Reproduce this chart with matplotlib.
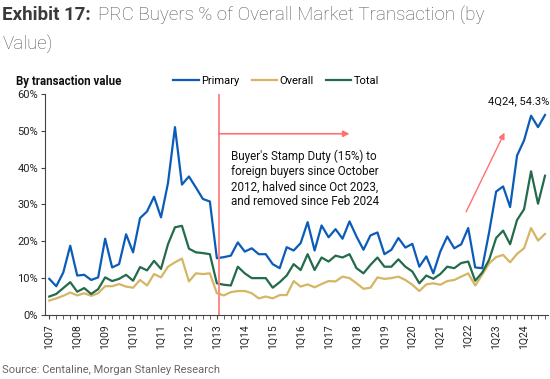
import matplotlib
matplotlib.use("Agg")
import matplotlib.pyplot as plt

plt.rcParams['font.family'] = ['Roboto', 'DejaVu Sans']

# quarters 1Q07 .. 4Q24
quarters = [f"{q}Q{y:02d}" for y in range(7, 25) for q in range(1, 5)]

primary = [9.8, 7.8, 11.5, 18.8, 10.7, 10.9, 9.5, 10.2,
           20.7, 12.9, 13.8, 21.9, 17.0, 26.3, 28.1, 32.1,
           26.5, 35.8, 51.0, 35.4, 37.6, 34.6, 31.5, 30.8,
           15.4, 15.7, 16.1, 19.7, 17.2, 18.1, 16.5, 16.5,
           13.8, 12.7, 18.4, 17.5, 19.5, 25.2, 17.5, 24.3,
           21.1, 23.3, 20.7, 25.4, 21.3, 17.7, 21.6, 22.4,
           16.5, 17.7, 20.9, 18.3, 19.3, 13.1, 15.9, 11.3,
           17.2, 21.3, 18.1, 19.2, 23.6, 12.9, 12.7, 22.5,
           33.5, 34.9, 29.3, 43.3, 47.4, 54.1, 51.0, 54.3]

overall = [3.9, 4.5, 5.2, 6.1, 5.3, 5.9, 5.2, 5.9,
           7.8, 7.8, 8.4, 7.7, 7.4, 9.5, 8.0, 11.1,
           10.2, 13.1, 14.3, 15.3, 9.1, 11.3, 11.1, 11.3,
           5.9, 5.3, 6.2, 6.5, 6.5, 5.9, 4.5, 5.0,
           4.5, 5.4, 5.4, 9.2, 7.7, 8.3, 7.5, 8.4,
           9.2, 9.1, 10.4, 10.0, 8.6, 7.1, 7.4, 10.2,
           9.8, 10.0, 10.4, 9.5, 8.2, 6.5, 8.3, 8.6,
           8.2, 9.2, 9.5, 10.4, 11.3, 8.0, 10.9, 14.0,
           15.7, 16.3, 14.3, 16.6, 18.1, 23.6, 20.2, 22.0]

total = [5.0, 5.7, 7.3, 8.9, 6.3, 7.3, 5.7, 7.0,
         10.2, 9.2, 9.8, 10.9, 9.3, 13.0, 12.1, 14.7,
         12.5, 19.2, 23.8, 24.2, 18.0, 17.0, 16.8, 16.5,
         8.6, 8.2, 8.0, 13.1, 11.3, 10.0, 10.0, 10.0,
         7.4, 8.9, 10.7, 13.8, 12.2, 16.5, 12.2, 15.6,
         14.5, 16.1, 15.6, 16.5, 12.7, 11.3, 13.6, 15.6,
         13.1, 13.1, 15.1, 13.1, 11.8, 8.6, 10.7, 9.8,
         11.1, 13.1, 12.7, 14.1, 14.5, 9.3, 11.5, 15.0,
         20.9, 22.9, 19.2, 25.8, 28.7, 39.0, 30.2, 37.8]

x = list(range(len(quarters)))

fig = plt.figure(figsize=(5.5, 3.79), dpi=100)
ax = fig.add_axes([0.082, 0.169, 0.914, 0.583])

ax.plot(x, primary, color='#0a5cb8', lw=1.6, label='Primary')
ax.plot(x, overall, color='#d4b665', lw=1.6, label='Overall')
ax.plot(x, total, color='#236b4a', lw=1.6, label='Total')

ax.set_xlim(-0.6, 71.4)
ax.set_ylim(0, 60)
ax.set_yticks(range(0, 61, 10))
ax.set_yticklabels([f"{v}%" for v in range(0, 61, 10)], fontsize=8, color='#222222')
ax.set_xticks(x[::4])
ax.set_xticklabels(quarters[::4], rotation=90, fontsize=7.5, color='#222222')
ax.set_xticks(x, minor=True)
ax.tick_params(axis='x', which='both', length=3, color='#444444')
ax.tick_params(axis='y', length=3, color='#444444', pad=2)
for s in ['top', 'right']:
    ax.spines[s].set_visible(False)
for s in ['left', 'bottom']:
    ax.spines[s].set_color('#444444')

# stamp duty marker
ax.axvline(24.3, color='#ff8080', lw=1.3)
ax.annotate('', xy=(43, 49.2), xytext=(24.3, 49.2),
            arrowprops=dict(arrowstyle='-|>', color='#ff7070', lw=1.2,
                            mutation_scale=9, shrinkA=0, shrinkB=0))
ax.text(26.0, 44.8, "Buyer's Stamp Duty (15%) to\nforeign buyers since October\n"
        "2012, halved since Oct 2023,\nand removed since Feb 2024",
        fontsize=8.4, va='top', ha='left', color='#111111', linespacing=1.2)
ax.annotate('', xy=(65.2, 49.5), xytext=(59.7, 28),
            arrowprops=dict(arrowstyle='-|>', color='#ff7070', lw=1.0,
                            mutation_scale=9, shrinkA=0, shrinkB=0))
ax.text(67.3, 58.0, "4Q24, 54.3%", fontsize=8, ha='center', va='center',
        color='#111111')

fig.legend(loc='center left', bbox_to_anchor=(0.315, 0.786), ncol=3,
           frameon=False, fontsize=8, handlelength=2.3, handletextpad=0.2,
           columnspacing=1.1, borderaxespad=0, borderpad=0)

fig.text(0.029, 0.786, "By transaction value", fontsize=8.3, fontweight='bold',
         va='center', color='#111111')
fig.text(0.004, 0.96, "Exhibit 17:", fontsize=13.5, fontweight='bold',
         color='#3a3a3a', va='center')
fig.text(0.178, 0.96, "PRC Buyers % of Overall Market Transaction (by",
         fontsize=13.5, fontweight='light', color='#555555', va='center')
fig.text(0.004, 0.882, "Value)", fontsize=13.5, fontweight='light',
         color='#555555', va='center')
fig.text(0.004, 0.025, "Source: Centaline, Morgan Stanley Research", fontsize=8,
         color='#666666', va='center')

fig.savefig('out.png', dpi=100)
